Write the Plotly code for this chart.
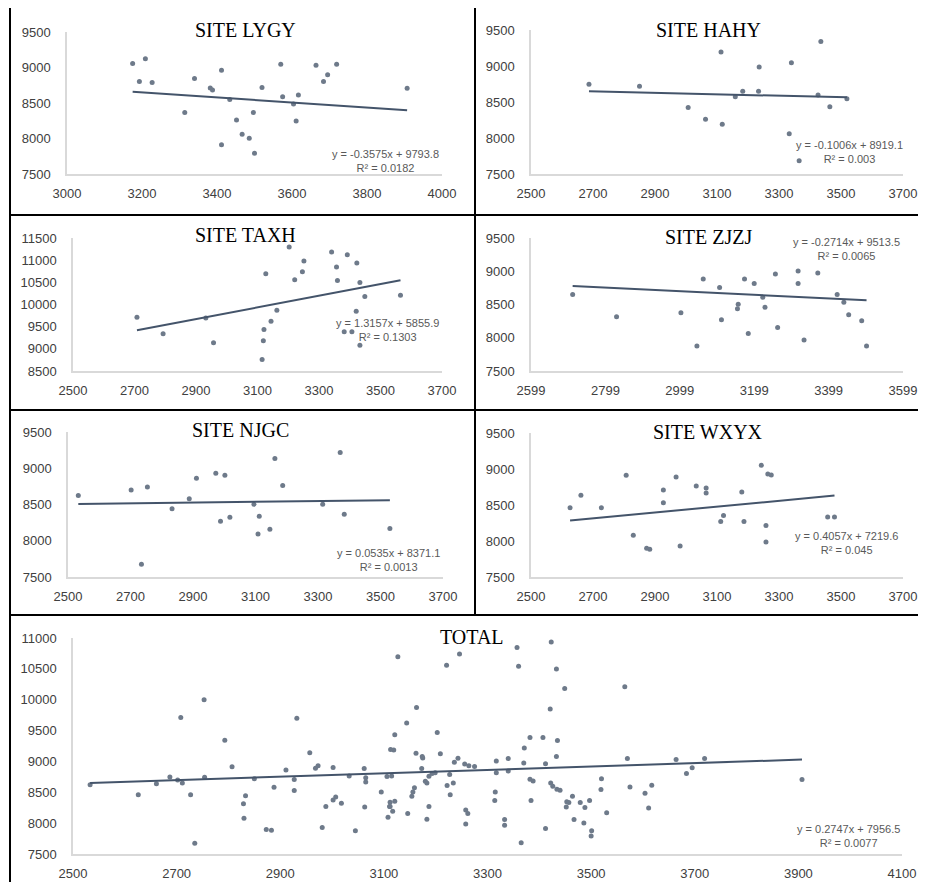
import plotly.graph_objects as go

# ---------------- data ----------------
lygy_x = [3175, 3209, 3193, 3227, 3314, 3340, 3382, 3388, 3412, 3434, 3412, 3452, 3467, 3486,
          3497, 3500, 3520, 3570, 3575, 3604, 3611, 3617, 3664, 3684, 3695, 3719, 3907]
lygy_y = [9055, 9124, 8803, 8789, 8367, 8844, 8711, 8683, 8963, 8550, 7912, 8261, 8059, 8004,
          8367, 7793, 8720, 9046, 8587, 8486, 8247, 8614, 9032, 8803, 8899, 9046, 8706]

hahy_x = [2687, 2850, 3007, 3063, 3113, 3117, 3159, 3183, 3234, 3236, 3333, 3340, 3365, 3426,
          3435, 3464, 3519]
hahy_y = [8748, 8720, 8422, 8261, 9193, 8192, 8573, 8651, 8651, 8986, 8059, 9046, 7683, 8596,
          9340, 8435, 8546]

taxh_x = [2708, 2793, 2932, 2957, 3115, 3119, 3121, 3127, 3144, 3163, 3203, 3221, 3246, 3251,
          3341, 3357, 3360, 3382, 3392, 3407, 3421, 3423, 3433, 3433, 3449, 3565]
taxh_y = [9713, 9343, 9698, 9139, 8762, 9185, 9434, 10695, 9622, 9872, 11299, 10559, 10740, 10982,
          11185, 10846, 10544, 9388, 11125, 9388, 9849, 10936, 10498, 9079, 10181, 10211]

zjzj_x = [2711, 2829, 3002, 3045, 3062, 3106, 3111, 3154, 3156, 3173, 3183, 3199, 3222, 3228,
          3256, 3262, 3317, 3317, 3333, 3370, 3422, 3440, 3453, 3488, 3501]
zjzj_y = [8650, 8315, 8375, 7875, 8885, 8755, 8270, 8435, 8505, 8885, 8065, 8815, 8610, 8460,
          8960, 8155, 9005, 8815, 7965, 8975, 8650, 8535, 8345, 8255, 7875]

njgc_x = [2533, 2702, 2754, 2735, 2833, 2888, 2911, 2973, 2988, 3002, 3018, 3095, 3108, 3112,
          3146, 3162, 3187, 3315, 3371, 3384, 3530]
njgc_y = [8623, 8701, 8742, 7675, 8443, 8581, 8862, 8931, 8269, 8903, 8324, 8503, 8094, 8338,
          8158, 9133, 8761, 8503, 9216, 8365, 8170]

wxyx_x = [2626, 2661, 2727, 2807, 2830, 2873, 2883, 2927, 2927, 2968, 2981, 3033, 3065, 3065,
          3112, 3121, 3180, 3187, 3243, 3258, 3258, 3264, 3275, 3457, 3479]
wxyx_y = [8461, 8637, 8461, 8912, 8079, 7898, 7884, 8707, 8530, 8888, 7930, 8763, 8735, 8665,
          8270, 8354, 8679, 8270, 9051, 8214, 7986, 8930, 8916, 8335, 8335]

# points that appear only in the TOTAL panel
total_extra_x = [2753, 3174, 3203]
total_extra_y = [10000, 9081, 9468]

titles = ["SITE LYGY", "SITE HAHY", "SITE TAXH", "SITE ZJZJ", "SITE NJGC", "SITE WXYX", "TOTAL"]
slopes = [-0.3575, -0.1006, 1.3157, -0.2714, 0.0535, 0.4057, 0.2747]
intercepts = [9793.8, 8919.1, 5855.9, 9513.5, 8371.1, 7219.6, 7956.5]
r2_labels = ["0.0182", "0.003", "0.1303", "0.0065", "0.0013", "0.045", "0.0077"]

x_ranges = [(3000, 4000), (2500, 3700), (2500, 3700), (2599, 3599), (2500, 3700), (2500, 3700), (2500, 4100)]
y_ranges = [(7500, 9500), (7500, 9500), (8500, 11500), (7500, 9500), (7500, 9500), (7500, 9500), (7500, 11000)]

total_x = lygy_x + hahy_x + taxh_x + zjzj_x + njgc_x + wxyx_x + total_extra_x
total_y = lygy_y + hahy_y + taxh_y + zjzj_y + njgc_y + wxyx_y + total_extra_y

series = [(lygy_x, lygy_y), (hahy_x, hahy_y), (taxh_x, taxh_y), (zjzj_x, zjzj_y),
          (njgc_x, njgc_y), (wxyx_x, wxyx_y), (total_x, total_y)]

# ---------------- layout geometry (page pixels) ----------------
OFF = 8            # the page body margin shifts the figure by this much
W, H = 926 - OFF, 890 - 2 * OFF
# plot areas: left, right, top, bottom (page pixels)
boxes = [(67, 442, 32, 174), (531, 903, 30, 174),
         (73, 442, 238, 371), (531, 903, 238, 371),
         (68, 443, 432, 577), (531, 903, 433, 577),
         (73, 902, 638, 854)]
title_pos = [(245, 30), (708, 30), (245, 235), (708, 237), (240, 430), (708, 432), (472, 637)]
eq_pos = [(385, 161), (849, 152.5), (387, 329.5), (846, 249), (388, 560), (846, 543), (848, 835.5)]

def px(x):
    return (x - OFF) / W

def py(y):
    return 1 - (y - OFF) / H

DOT = "#6e7a8a"
LINE = "#44546a"
AXIS = "#d9d9d9"
TICK = "#404040"

fig = go.Figure()
layout = dict(width=W, height=H, margin=dict(l=0, r=0, t=0, b=0, autoexpand=False),
              paper_bgcolor="white", plot_bgcolor="white", showlegend=False)
annotations = []

for i, ((xs, ys), box) in enumerate(zip(series, boxes)):
    n = "" if i == 0 else str(i + 1)
    xa, ya = "x" + n, "y" + n
    fig.add_trace(go.Scatter(x=xs, y=ys, mode="markers", xaxis=xa, yaxis=ya,
                             marker=dict(color=DOT, size=5), hoverinfo="skip"))
    xmin, xmax = min(xs), max(xs)
    fig.add_trace(go.Scatter(x=[xmin, xmax],
                             y=[slopes[i] * xmin + intercepts[i], slopes[i] * xmax + intercepts[i]],
                             mode="lines", xaxis=xa, yaxis=ya,
                             line=dict(color=LINE, width=2), hoverinfo="skip"))
    l, r, t, b = box
    x0, x1 = x_ranges[i]
    y0, y1 = y_ranges[i]
    layout["xaxis" + n] = dict(domain=[px(l), px(r)], range=[x0, x1], anchor=ya,
                               tick0=x0, dtick=200, tickformat="d", automargin=False,
                               showgrid=False, zeroline=False,
                               showline=True, linecolor=AXIS, linewidth=1.5,
                               ticks="", ticklabelstandoff=7,
                               tickfont=dict(family="Liberation Sans", size=13, color=TICK))
    layout["yaxis" + n] = dict(domain=[py(b), py(t)], range=[y0, y1], anchor=xa,
                               tick0=y0, dtick=500, tickformat="d", automargin=False,
                               showgrid=False, zeroline=False,
                               showline=True, linecolor=AXIS, linewidth=1.5,
                               ticks="", ticklabelstandoff=12,
                               tickfont=dict(family="Liberation Sans", size=13, color=TICK))
    tx, ty = title_pos[i]
    annotations.append(dict(x=px(tx), y=py(ty), xref="paper", yref="paper",
                            text=titles[i], showarrow=False, xanchor="center", yanchor="middle",
                            bgcolor="white" if i == 6 else "rgba(0,0,0,0)", borderpad=0,
                            font=dict(family="Liberation Serif", size=20, color="#000000")))
    sign = "-" if intercepts[i] < 0 else "+"
    eq = "y = %gx %s %g" % (slopes[i], sign, abs(intercepts[i]))
    ex, ey = eq_pos[i]
    annotations.append(dict(x=px(ex), y=py(ey), xref="paper", yref="paper",
                            text=eq + "<br>R² = " + r2_labels[i], showarrow=False,
                            xanchor="center", yanchor="middle", align="center",
                            font=dict(family="Liberation Sans", size=11, color="#595959")))

layout["annotations"] = annotations

# panel border lines (page pixels)
segs = [(10, 7, 926, 7), (10, 7, 10, 890), (10, 215, 926, 215), (10, 410, 926, 410),
        (10, 615, 926, 615), (475, 7, 475, 615)]
layout["shapes"] = [dict(type="line", xref="paper", yref="paper",
                         x0=px(a), y0=py(b), x1=px(c), y1=py(d),
                         line=dict(color="black", width=2)) for a, b, c, d in segs]

fig.update_layout(**layout)
fig.write_html("out.html")
